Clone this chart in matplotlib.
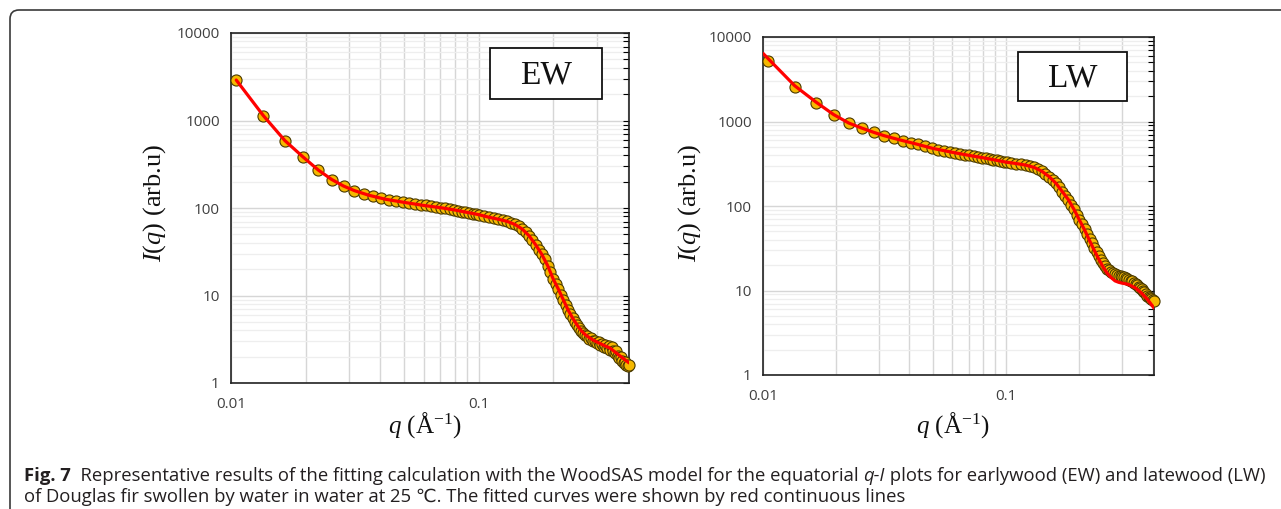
import matplotlib
matplotlib.use("Agg")
import matplotlib.pyplot as plt
from matplotlib.patches import Rectangle, FancyBboxPatch
from matplotlib.transforms import IdentityTransform
from matplotlib.ticker import FixedLocator, NullFormatter, LogLocator


# scattering vector q (1/Angstrom), shared by both panels
q_data = [
    0.0105, 0.0135, 0.0165, 0.0195, 0.0225, 0.0255, 0.0285, 0.0315, 0.0345, 0.0375,
    0.0405, 0.0435, 0.0465, 0.0495, 0.0525, 0.0555, 0.0585, 0.0615, 0.0645, 0.0675,
    0.0705, 0.0735, 0.0765, 0.0795, 0.0825, 0.0855, 0.0885, 0.0915, 0.0945, 0.0975,
    0.1005,
    0.105, 0.110, 0.115, 0.120, 0.125, 0.130, 0.135, 0.140, 0.145, 0.150,
    0.155, 0.160, 0.165, 0.170, 0.175, 0.180, 0.185, 0.190, 0.195, 0.200,
    0.205, 0.210, 0.215, 0.220, 0.225, 0.230, 0.235, 0.240, 0.245, 0.250,
    0.255, 0.260, 0.265, 0.270, 0.275, 0.280, 0.285, 0.290, 0.295, 0.300,
    0.305, 0.310, 0.315, 0.320, 0.325, 0.330, 0.335, 0.340, 0.345, 0.350,
    0.355, 0.360, 0.365, 0.370, 0.375, 0.380, 0.385, 0.390, 0.395, 0.400,
    0.405,
]

# earlywood measured intensity
ew_data = [
    2900, 1135, 583, 383, 270, 211, 178, 158, 145, 136,
    129, 124, 120, 117, 114, 111, 109, 107, 105, 103,
    101, 99, 97, 95, 93, 91, 89, 87.5, 86, 85,
    84,
    81, 78.5, 76.5, 74.5, 72.5, 70.5, 68, 65, 61.5, 57.5,
    53, 48, 43, 38, 33.5, 29.5, 26, 22, 18.5, 15.5,
    13.5, 11.8, 10.2, 8.9, 7.8, 6.8, 6.1, 5.5, 5.0, 4.6,
    4.2, 3.95, 3.75, 3.5, 3.45, 3.2, 3.25, 3.0, 3.05, 2.85,
    2.95, 2.7, 2.8, 2.6, 2.75, 2.5, 2.65, 2.4, 2.55, 2.3,
    2.2, 2.35, 2.05, 1.95, 2.0, 1.8, 1.7, 1.75, 1.6, 1.55,
    1.6,
]

# latewood measured intensity
lw_data = [
    5200, 2580, 1670, 1195, 952, 831, 745, 679, 632, 593,
    562, 535, 507, 482, 466, 452, 438, 426, 415, 405,
    396, 388, 381, 374, 367, 360, 353, 346, 340, 334,
    328,
    323, 318, 312, 305, 297, 287, 273, 258, 241, 223,
    204, 186, 166, 148, 132, 119, 104, 91, 79, 69,
    62, 54, 47, 41, 36, 32, 28.5, 25.5, 23, 21,
    19.3, 18, 17.3, 16.6, 16.1, 15.7, 15.3, 15.0, 14.8, 14.6,
    14.3, 14.0, 13.7, 13.4, 13.1, 12.8, 12.4, 12.0, 11.6, 11.1,
    10.7, 10.3, 9.9, 9.5, 9.1, 8.7, 8.4, 8.1, 7.9, 7.75,
    7.6,
]

# WoodSAS fitted curves
ew_fit_q = [0.0105, 0.0135, 0.0165, 0.0195, 0.0225, 0.0255, 0.0285, 0.0315, 0.036, 0.042,
            0.05, 0.06, 0.07, 0.08, 0.09, 0.10, 0.11, 0.12, 0.13, 0.14,
            0.15, 0.16, 0.17, 0.18, 0.19, 0.20, 0.21, 0.22, 0.23, 0.24,
            0.25, 0.26, 0.27, 0.28, 0.29, 0.30, 0.32, 0.34, 0.36, 0.38, 0.405]
ew_fit = [2900, 1140, 590, 385, 272, 212, 178, 158, 140, 126,
          116, 107, 101, 95, 89, 84, 78.5, 74.5, 70.5, 65,
          57.5, 48, 38, 29.5, 22, 15.5, 11.8, 8.9, 6.8, 5.5,
          4.6, 3.95, 3.55, 3.3, 3.1, 2.95, 2.7, 2.5, 2.2, 1.95, 1.7]

lw_fit_q = [0.010, 0.0135, 0.0165, 0.0195, 0.0225, 0.0255, 0.0285, 0.0315, 0.036, 0.042,
            0.05, 0.06, 0.07, 0.08, 0.09, 0.10, 0.11, 0.12, 0.13, 0.14,
            0.15, 0.16, 0.17, 0.18, 0.19, 0.20, 0.21, 0.22, 0.23, 0.24,
            0.25, 0.26, 0.27, 0.28, 0.29, 0.30, 0.31, 0.32, 0.34, 0.36, 0.38, 0.405]
lw_fit = [6400, 2650, 1700, 1210, 960, 835, 745, 679, 612, 548,
          480, 432, 398, 373, 350, 330, 318, 305, 287, 258,
          223, 186, 148, 119, 91, 68, 52, 39, 30, 23.5,
          19, 16, 14.2, 13.0, 12.5, 12.2, 12.0, 11.7, 10.7, 9.3, 7.9, 6.2]

y_ticks = [1, 10, 100, 1000, 10000]
x_ticks = [0.01, 0.1]
x_tick_labels = ["0.01", "0.1"]

caption_line1 = [
    ("Fig. 7", "bold", "normal"),
    ("  Representative results of the fitting calculation with the WoodSAS model for the equatorial ", "normal", "normal"),
    ("q-I", "normal", "italic"),
    (" plots for earlywood (EW) and latewood (LW)", "normal", "normal"),
]
caption_line2 = [
    ("of Douglas fir swollen by water in water at 25 \u2103. The fitted curves were shown by red continuous lines",
     "normal", "normal"),
]

W, H = 1281, 509
SERIF = "Liberation Serif"
SANS = ["Open Sans", "DejaVu Sans"]
CAP_FONT = ["Open Sans", "DejaVu Sans"]

plt.rcParams["mathtext.fontset"] = "custom"
plt.rcParams["mathtext.rm"] = SERIF
plt.rcParams["mathtext.it"] = SERIF + ":italic"


def px(x, y):
    return x / W, 1 - y / H


def style_axes(ax, label):
    ax.set_xscale("log")
    ax.set_yscale("log")
    ax.set_xlim(0.01, 0.405)
    ax.set_ylim(1, 10000)
    ax.set_facecolor("white")
    for s in ax.spines.values():
        s.set_color("#222222")
        s.set_linewidth(1.2)
    ax.xaxis.set_major_locator(FixedLocator(x_ticks))
    ax.set_xticklabels(x_tick_labels)
    ax.xaxis.set_minor_locator(LogLocator(base=10, subs=range(2, 10)))
    ax.xaxis.set_minor_formatter(NullFormatter())
    ax.yaxis.set_major_locator(FixedLocator(y_ticks))
    ax.set_yticklabels([str(v) for v in y_ticks])
    ax.yaxis.set_minor_locator(LogLocator(base=10, subs=range(2, 10)))
    ax.yaxis.set_minor_formatter(NullFormatter())
    ax.tick_params(axis="x", which="both", length=0, pad=10, labelsize=11,
                   labelcolor="#404040")
    ax.tick_params(axis="y", which="both", left=False, right=True, direction="in",
                   length=4, width=0.8, pad=8, labelsize=11, labelcolor="#404040")
    for t in ax.get_xticklabels() + ax.get_yticklabels():
        t.set_family(SANS)
    ax.xaxis.grid(True, which="both", color="#d6d6d6", linewidth=1.0)
    ax.yaxis.grid(True, which="major", color="#d6d6d6", linewidth=1.0)
    ax.yaxis.grid(True, which="minor", color="#eeeeee", linewidth=0.9)
    ax.set_axisbelow(True)
    # label box
    x0, x1 = 0.651, 0.932
    y0, y1 = 0.811, 0.957
    ax.add_patch(Rectangle((x0, y0), x1 - x0, y1 - y0, transform=ax.transAxes,
                           facecolor="white", edgecolor="#111111", linewidth=1.3, zorder=5))
    ax.text((x0 + x1) / 2, (y0 + y1) / 2 - 0.005, label, transform=ax.transAxes,
            ha="center", va="center", family=SERIF, fontsize=24, color="#111111", zorder=6)


def draw_panel(ax, data, fit_q, fit, label):
    style_axes(ax, label)
    ax.plot(q_data, data, linestyle="none", marker="o", markersize=8,
            markerfacecolor="#F5B800", markeredgecolor="#4a3a00", markeredgewidth=0.8,
            clip_on=False, zorder=3)
    ax.plot(fit_q, fit, color="#ff0000", linewidth=2.3, solid_capstyle="round", zorder=4)


fig = plt.figure(figsize=(W / 100, H / 100), dpi=100)

ax1 = fig.add_axes([231 / W, 1 - 383 / H, 398 / W, 350 / H])
ax2 = fig.add_axes([763 / W, 1 - 375 / H, 391 / W, 338 / H])
draw_panel(ax1, ew_data, ew_fit_q, ew_fit, "EW")
draw_panel(ax2, lw_data, lw_fit_q, lw_fit, "LW")

ylab = r"$I(q)$ (arb.u)"
xlab = r"$q$ (Å$^{\mathrm{-1}}$)"
for (yx, yy), (xx, xy) in [((155, 203), (425, 425)), ((690, 203), (953, 425))]:
    fig.text(*px(yx, yy), ylab, rotation=90, ha="center", va="center",
             family=SERIF, fontsize=19, color="#111111")
    fig.text(*px(xx, xy), xlab, ha="center", va="center",
             family=SERIF, fontsize=18, color="#111111")

# outer rounded frame
frame = FancyBboxPatch((10, -20), 1400, 509 - 10 + 20, boxstyle="round,pad=0,rounding_size=9",
                       transform=IdentityTransform(), facecolor="none",
                       edgecolor="#3a3a3a", linewidth=1.2)
fig.patches.append(frame)

# caption
renderer = fig.canvas.get_renderer()


def run_width(runs, size):
    total = 0
    for txt, weight, style in runs:
        t = fig.text(0, 0, txt, fontsize=size, fontweight=weight, style=style, family=CAP_FONT)
        total += t.get_window_extent(renderer).width
        t.remove()
    return total


def draw_runs(runs, x, y, size):
    for txt, weight, style in runs:
        t = fig.text(*px(x, y), txt, fontsize=size, fontweight=weight, style=style,
                     family=CAP_FONT, ha="left", va="center", color="#231f20")
        x += t.get_window_extent(renderer).width


cap_size = 10 * (1264 - 24) / run_width(caption_line1, 10)
draw_runs(caption_line1, 24, 476, cap_size)
draw_runs(caption_line2, 24, 497, cap_size)

fig.savefig("out.png", dpi=100)
